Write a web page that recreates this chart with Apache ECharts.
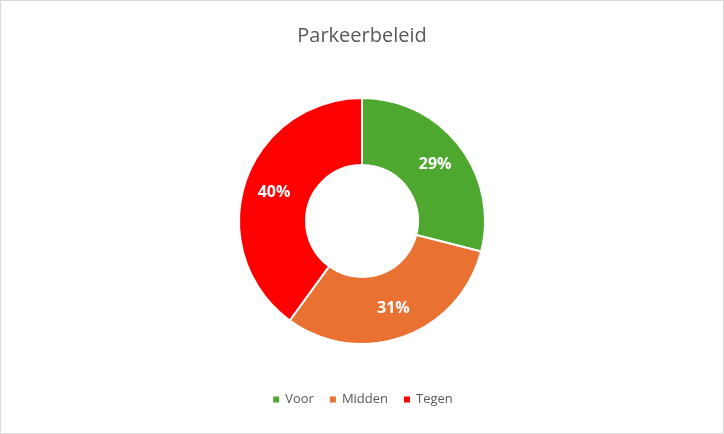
<!DOCTYPE html>
<html><head><meta charset="utf-8">
<script src="https://cdn.jsdelivr.net/npm/echarts@6/dist/echarts.min.js"></script>
<style>html,body{margin:0;padding:0;background:#fff}#c{width:722px;height:432px;border:1px solid #d9d9d9}</style>
</head><body><div id="c"></div>
<script>
const categories=['Voor','Midden','Tegen'];
const values=[29,31,40];
const colors=['#4EA72E','#E97132','#FF0000'];
const chart=echarts.init(document.getElementById('c'));
chart.setOption({
 animation:false,
 title:{text:'Parkeerbeleid',left:'center',top:20,textStyle:{fontFamily:'Open Sans',fontSize:20,fontWeight:'normal',color:'#595959'}},
 legend:{bottom:22,left:'center',itemWidth:8,itemHeight:8,icon:'rect',itemGap:14,textStyle:{fontFamily:'Open Sans',fontSize:13,color:'#595959'},data:categories},
 series:[{type:'pie',center:[361,220],radius:[56,123],startAngle:90,
  itemStyle:{borderColor:'#fff',borderWidth:2},
  label:{show:true,position:'inside',formatter:'{c}%',color:'#fff',fontFamily:'Open Sans',fontWeight:'bold',fontSize:16},
  labelLine:{show:false},
  data:categories.map((n,i)=>({name:n,value:values[i],itemStyle:{color:colors[i]}}))}]
});
</script></body></html>
